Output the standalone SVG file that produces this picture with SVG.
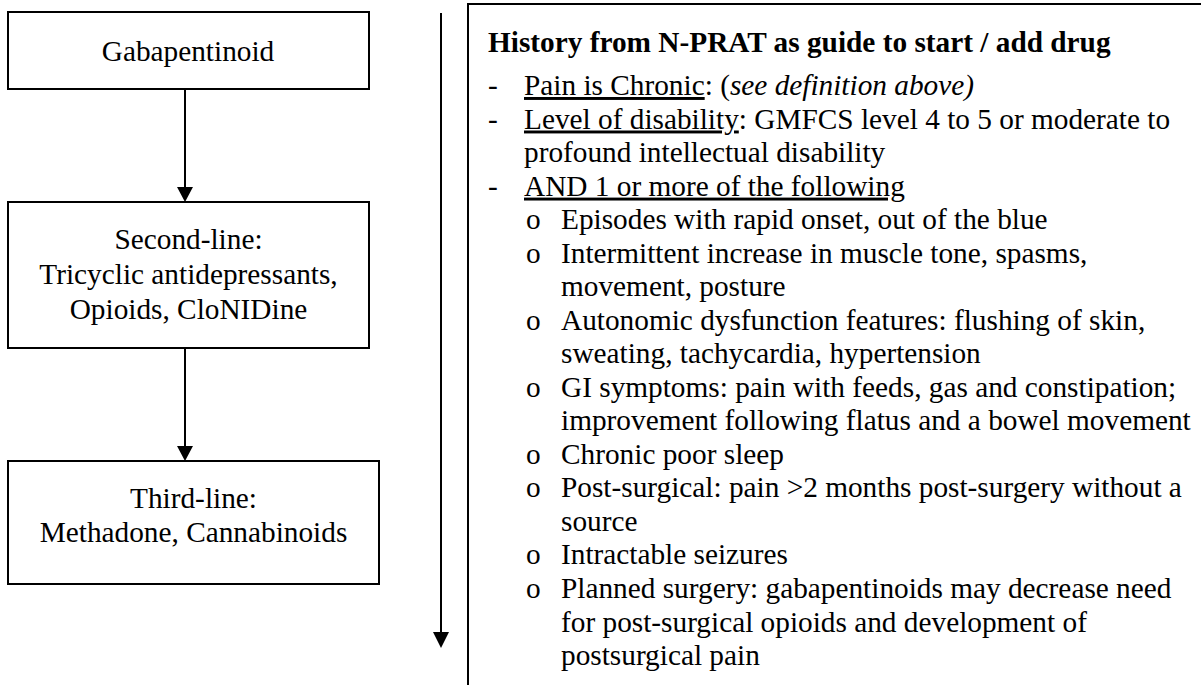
<svg xmlns="http://www.w3.org/2000/svg" width="1201" height="685" viewBox="0 0 1201 685">
<style>
text{font-family:"Liberation Serif","Times New Roman",serif;font-size:29.3px;fill:#000}
.c{text-anchor:middle}
.b{font-weight:bold}
.u{text-decoration:underline}
.i{font-style:italic}
.box{fill:#fff;stroke:#000;stroke-width:2}
.line{stroke:#000;stroke-width:2;fill:none}
</style>
<defs>
<marker id="ah" markerWidth="16" markerHeight="15" refX="8" refY="15" orient="auto-start-reverse" markerUnits="userSpaceOnUse" viewBox="0 0 16 15">
<path d="M0,0 L16,0 L8,15 Z" fill="#000"/>
</marker>
<clipPath id="clipText"><rect x="0" y="0" width="1201" height="671"/></clipPath>
</defs>
<rect width="1201" height="685" fill="#fff"/>
<g id="connectors">
<line class="line" x1="185" y1="89" x2="185" y2="187"/>
<path d="M177,187 L193,187 L185,202 Z" fill="#000"/>
<line class="line" x1="185" y1="348" x2="185" y2="446"/>
<path d="M177,446 L193,446 L185,461 Z" fill="#000"/>
<line class="line" x1="441" y1="13" x2="441" y2="633"/>
<path d="M433,632 L449,632 L441,648 Z" fill="#000"/>
</g>
<g id="node-gabapentinoid">
<rect class="box" x="8" y="12" width="361" height="77"/>
<text class="c" x="188" y="60.5">Gabapentinoid</text>
</g>
<g id="node-second-line">
<rect class="box" x="8" y="202" width="361" height="146"/>
<text class="c" x="188.5" y="248.5">Second-line:</text>
<text class="c" x="188.5" y="284">Tricyclic antidepressants,</text>
<text class="c" x="188.5" y="318.5">Opioids, CloNIDine</text>
</g>
<g id="node-third-line">
<rect class="box" x="8" y="461" width="371" height="123"/>
<text class="c" x="193.5" y="508">Third-line:</text>
<text class="c" x="193.5" y="542">Methadone, Cannabinoids</text>
</g>
<g id="node-history">
<path class="line" d="M468,690 L468,4 L1210,4"/>
<g clip-path="url(#clipText)">
<text class="b" x="488" y="52">History from N-PRAT as guide to start / add drug</text>
<text x="488" y="95">-</text>
<text x="524" y="95"><tspan class="u">Pain is Chronic</tspan>: (<tspan class="i">see definition above)</tspan></text>
<text x="488" y="128.5">-</text>
<text x="524" y="128.5"><tspan class="u">Level of disability</tspan>: GMFCS level 4 to 5 or moderate to</text>
<text x="524" y="162.1">profound intellectual disability</text>
<text x="488" y="195.6">-</text>
<text x="524" y="195.6" class="u">AND 1 or more of the following</text>
<text x="526" y="229.1">o</text>
<text x="561" y="229.1">Episodes with rapid onset, out of the blue</text>
<text x="526" y="262.6">o</text>
<text x="561" y="262.6">Intermittent increase in muscle tone, spasms,</text>
<text x="561" y="296.2">movement, posture</text>
<text x="526" y="329.7">o</text>
<text x="561" y="329.7">Autonomic dysfunction features: flushing of skin,</text>
<text x="561" y="363.2">sweating, tachycardia, hypertension</text>
<text x="526" y="396.8">o</text>
<text x="561" y="396.8">GI symptoms: pain with feeds, gas and constipation;</text>
<text x="561" y="430.3">improvement following flatus and a bowel movement</text>
<text x="526" y="463.8">o</text>
<text x="561" y="463.8">Chronic poor sleep</text>
<text x="526" y="497.4">o</text>
<text x="561" y="497.4">Post-surgical: pain &gt;2 months post-surgery without a</text>
<text x="561" y="530.9">source</text>
<text x="526" y="564.4">o</text>
<text x="561" y="564.4">Intractable seizures</text>
<text x="526" y="598">o</text>
<text x="561" y="598">Planned surgery: gabapentinoids may decrease need</text>
<text x="561" y="631.5">for post-surgical opioids and development of</text>
<text x="561" y="665">postsurgical pain</text>
</g>
</g>
</svg>
